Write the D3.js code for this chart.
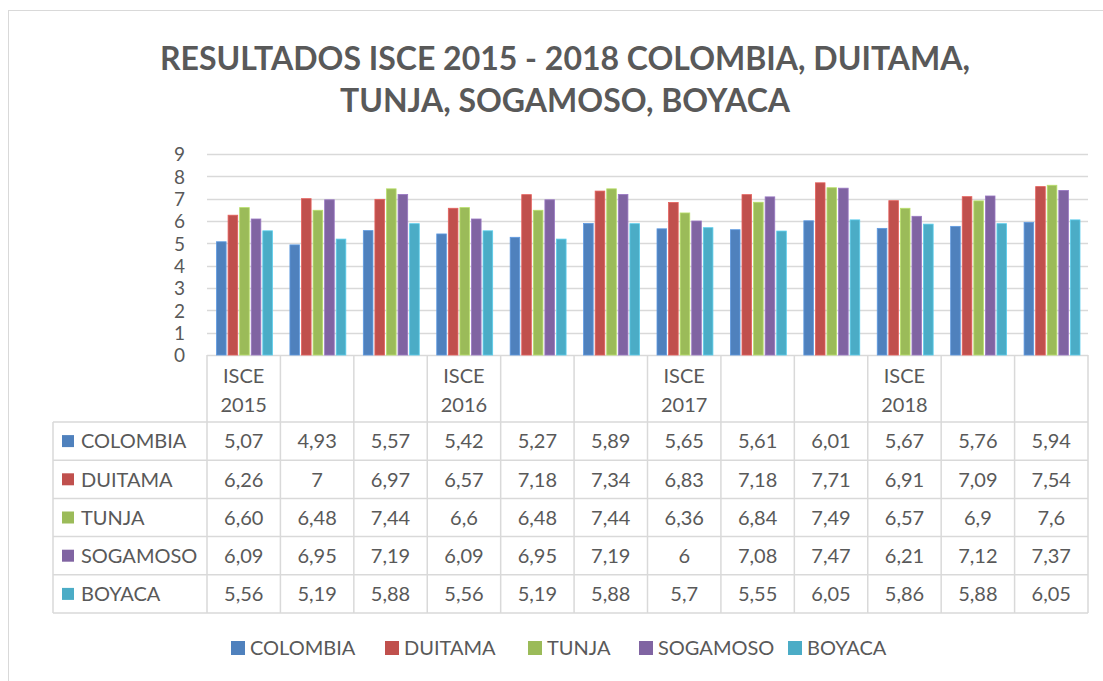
<!DOCTYPE html>
<html>
<head>
	<meta charset="utf-8">
	<title>ISCE 2015 - 2018</title>
	<script src="https://d3js.org/d3.v7.min.js"></script>
	<style>
		body { margin: 0; background: #fff; }
		text { font-family: Lato, "Open Sans", sans-serif; fill: #595959; }
	</style>
</head>
<body>
	<div id="chart"></div>
	<script>
		// categories (two-line labels, blank where the sheet had none)
		let categories = ["ISCE 2015", "", "", "ISCE 2016", "", "", "ISCE 2017", "", "", "ISCE 2018", "", ""];
		let seriesNames = ["COLOMBIA", "DUITAMA", "TUNJA", "SOGAMOSO", "BOYACA"];
		let colors = ["#4F81BD", "#C0504D", "#9BBB59", "#8064A2", "#4BACC6"];

		// values as written in the data table
		let colombia = ["5,07", "4,93", "5,57", "5,42", "5,27", "5,89", "5,65", "5,61", "6,01", "5,67", "5,76", "5,94"];
		let duitama = ["6,26", "7", "6,97", "6,57", "7,18", "7,34", "6,83", "7,18", "7,71", "6,91", "7,09", "7,54"];
		let tunja = ["6,60", "6,48", "7,44", "6,6", "6,48", "7,44", "6,36", "6,84", "7,49", "6,57", "6,9", "7,6"];
		let sogamoso = ["6,09", "6,95", "7,19", "6,09", "6,95", "7,19", "6", "7,08", "7,47", "6,21", "7,12", "7,37"];
		let boyaca = ["5,56", "5,19", "5,88", "5,56", "5,19", "5,88", "5,7", "5,55", "6,05", "5,86", "5,88", "6,05"];
		let yTicks = [0, 1, 2, 3, 4, 5, 6, 7, 8, 9];

		let series = [colombia, duitama, tunja, sogamoso, boyaca].map(function (vals, i) {
			return { name: seriesNames[i], color: colors[i], labels: vals, values: vals.map(function (v) { return +v.replace(",", "."); }) };
		});

		let W = 1103, H = 681;
		let plotLeft = 207, plotRight = 1088, plotTop = 154, plotBottom = 355;
		let tableLeft = 53, headBottom = 422, rowH = 38.2;

		let svg = d3.select("#chart").append("svg").attr("width", W).attr("height", H);

		// chart frame
		svg.append("rect").attr("x", 8.5).attr("y", 10.5).attr("width", W).attr("height", H)
			.attr("fill", "none").attr("stroke", "#d9d9d9").attr("stroke-width", 1);

		// title
		let title = svg.append("text").attr("text-anchor", "middle").attr("font-weight", "bold")
			.attr("font-size", 32);
		title.append("tspan").attr("x", 565).attr("y", 70).text("RESULTADOS ISCE 2015 - 2018 COLOMBIA, DUITAMA,");
		title.append("tspan").attr("x", 565).attr("y", 112).text("TUNJA, SOGAMOSO, BOYACA");

		let x = d3.scaleBand().domain(d3.range(categories.length)).range([plotLeft, plotRight]);
		let y = d3.scaleLinear().domain([0, 9]).range([plotBottom, plotTop]);
		let inner = d3.scaleBand().domain(d3.range(series.length))
			.range([9.5, x.bandwidth() - 8]).paddingInner(0.17);

		// gridlines
		svg.append("g").selectAll("line").data(yTicks).enter().append("line")
			.attr("x1", plotLeft).attr("x2", plotRight)
			.attr("y1", function (d) { return Math.round(y(d)) + 0.5; })
			.attr("y2", function (d) { return Math.round(y(d)) + 0.5; })
			.attr("stroke", "#d9d9d9").attr("stroke-width", 1.3);

		// y axis labels
		let yAxis = svg.append("g").attr("transform", "translate(" + (plotLeft - 22) + ",0)")
			.call(d3.axisLeft(y).tickValues(yTicks).tickSize(0).tickPadding(0));
		yAxis.select(".domain").remove();
		yAxis.selectAll("text").attr("font-size", 19).attr("fill", "#595959")
			.attr("font-family", "Lato, 'Open Sans', sans-serif").attr("dy", "0.36em");

		// bars
		let groups = svg.append("g").selectAll("g").data(series).enter().append("g");
		groups.selectAll("rect").data(function (s, si) {
			return s.values.map(function (v, ci) { return { v: v, ci: ci, si: si, color: s.color }; });
		}).enter().append("rect")
			.attr("x", function (d) { return x(d.ci) + inner(d.si); })
			.attr("width", inner.bandwidth())
			.attr("y", function (d) { return y(d.v); })
			.attr("height", function (d) { return y(0) - y(d.v); })
			.attr("fill", function (d) { return d.color; })
			.attr("stroke", function (d) { return d3.color(d.color).brighter(0.5); })
			.attr("stroke-width", 0.8);

		// data table: grid lines
		let tableLines = svg.append("g").attr("stroke", "#d9d9d9").attr("stroke-width", 1.5);
		let tableBottom = headBottom + rowH * series.length;
		d3.range(categories.length + 1).forEach(function (i) {
			let xx = i < categories.length ? x(i) : plotRight;
			tableLines.append("line").attr("x1", xx).attr("x2", xx).attr("y1", plotBottom).attr("y2", tableBottom);
		});
		tableLines.append("line").attr("x1", tableLeft).attr("x2", tableLeft).attr("y1", headBottom).attr("y2", tableBottom);
		d3.range(series.length + 1).forEach(function (r) {
			let yy = headBottom + r * rowH;
			tableLines.append("line").attr("x1", tableLeft).attr("x2", plotRight).attr("y1", yy).attr("y2", yy);
		});

		// header cells (category labels)
		svg.append("g").selectAll("text").data(categories).enter().append("text")
			.attr("text-anchor", "middle").attr("font-size", 20)
			.each(function (d, i) {
				let parts = d.split(" ");
				let t = d3.select(this);
				parts.forEach(function (p, k) {
					if (p) t.append("tspan").attr("x", x(i) + x.bandwidth() / 2).attr("y", 383 + k * 29).text(p);
				});
			});

		// table rows
		let rows = svg.append("g").selectAll("g").data(series).enter().append("g")
			.attr("transform", function (d, i) { return "translate(0," + (headBottom + i * rowH + rowH / 2) + ")"; });
		rows.append("rect").attr("x", 62).attr("y", -6).attr("width", 12).attr("height", 12)
			.attr("fill", function (d) { return d.color; });
		rows.append("text").attr("x", 81).attr("dy", "0.36em").attr("font-size", 20)
			.text(function (d) { return d.name; });
		rows.selectAll("text.val").data(function (d) { return d.labels; }).enter().append("text")
			.attr("class", "val").attr("text-anchor", "middle").attr("font-size", 20).attr("dy", "0.36em")
			.attr("x", function (d, i) { return x(i) + x.bandwidth() / 2; })
			.text(function (d) { return d; });

		// legend
		let legX = [231, 385, 528, 639, 788];
		let leg = svg.append("g").selectAll("g").data(series).enter().append("g")
			.attr("transform", function (d, i) { return "translate(" + legX[i] + ",648)"; });
		leg.append("rect").attr("y", -7).attr("width", 14).attr("height", 14)
			.attr("fill", function (d) { return d.color; });
		leg.append("text").attr("x", 19).attr("dy", "0.36em").attr("font-size", 20)
			.text(function (d) { return d.name; });
	</script>
</body>
</html>
